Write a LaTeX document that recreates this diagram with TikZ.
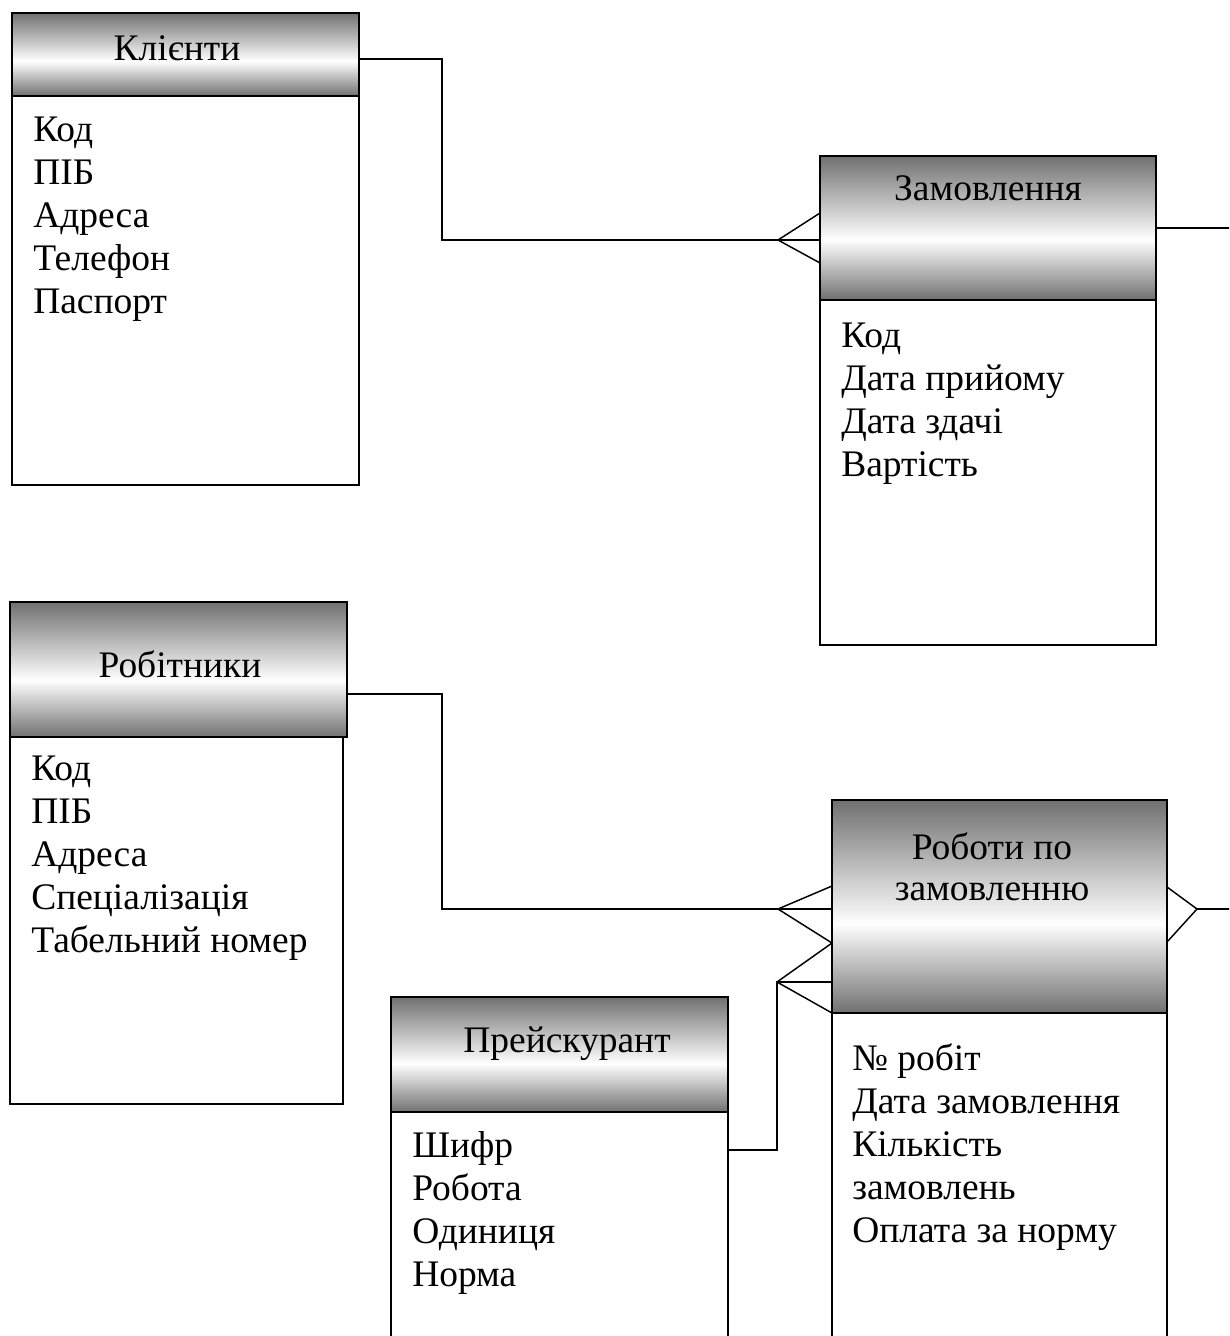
\documentclass[tikz,border=0pt]{standalone}
\usepackage{fontspec}
\setmainfont{Liberation Serif}
\usetikzlibrary{calc}
\definecolor{hdrdark}{RGB}{112,112,112}
\pgfdeclareverticalshading{hdrshade}{100bp}{%
  color(0bp)=(hdrdark); color(25bp)=(hdrdark); color(46bp)=(white);
  color(75bp)=(hdrdark); color(100bp)=(hdrdark)}
\begin{document}
\begin{tikzpicture}[x=0.75pt,y=-0.75pt,
  hdr/.style={draw=black, line width=1.2pt, shading=hdrshade, anchor=north west,
    inner sep=0pt, outer sep=0pt},
  bodybox/.style={draw=black, line width=1.2pt, fill=white, anchor=north west,
    inner sep=0pt, outer sep=0pt},
  ttl/.style={font=\fontsize{28.1pt}{34pt}\selectfont, anchor=base, inner sep=0pt},
  fld/.style={font=\fontsize{28.1pt}{34pt}\selectfont, anchor=base west, inner sep=0pt},
  conn/.style={line width=1.1pt, line join=miter}]
\useasboundingbox (0,0) rectangle (1229,1336);
\clip (0,0) rectangle (1229,1336);

% ---------- Клієнти ----------
\node[bodybox, minimum width=260.25pt, minimum height=291.75pt] (klB) at (12,96) {};
\node[hdr, minimum width=260.25pt, minimum height=62.25pt] (klH) at (12,13) {};
\node[ttl] (klT) at (177,60) {Клієнти};
\foreach \t [count=\i from 0] in {Код,ПІБ,Адреса,Телефон,Паспорт}
  \node[fld] (klF\i) at (33,141+43*\i) {\t};

% ---------- Замовлення ----------
\node[bodybox, minimum width=252pt, minimum height=258.75pt] (zmB) at (820,300) {};
\node[hdr, minimum width=252pt, minimum height=108pt] (zmH) at (820,156) {};
\node[ttl] (zmT) at (988,200) {Замовлення};
\foreach \t [count=\i from 0] in {Код,Дата прийому,Дата здачі,Вартість}
  \node[fld] (zmF\i) at (841,347+43*\i) {\t};

% ---------- Робітники ----------
\node[bodybox, minimum width=249.75pt, minimum height=275.25pt] (rbB) at (10,737) {};
\node[hdr, minimum width=252.75pt, minimum height=101.25pt] (rbH) at (10,602) {};
\node[ttl] (rbT) at (180,677) {Робітники};
\foreach \t [count=\i from 0] in {Код,ПІБ,Адреса,Спеціалізація,Табельний номер}
  \node[fld] (rbF\i) at (31,780+43*\i) {\t};

% ---------- Роботи по замовленню ----------
\node[bodybox, minimum width=251.25pt, minimum height=255pt] (rpB) at (832,1013) {};
\node[hdr, minimum width=251.25pt, minimum height=159.75pt] (rpH) at (832,800) {};
\node[ttl] (rpT1) at (992,859) {Роботи по};
\node[ttl] (rpT2) at (992,900) {замовленню};
\foreach \t [count=\i from 0] in {№ робіт,Дата замовлення,Кількість,замовлень,Оплата за норму}
  \node[fld] (rpF\i) at (852,1070+43*\i) {\t};

% ---------- Прейскурант ----------
\node[bodybox, minimum width=252.75pt, minimum height=180pt] (prB) at (391,1112) {};
\node[hdr, minimum width=252.75pt, minimum height=86.25pt] (prH) at (391,997) {};
\node[ttl] (prT) at (567,1052) {Прейскурант};
\foreach \t [count=\i from 0] in {Шифр,Робота,Одиниця,Норма}
  \node[fld] (prF\i) at (412,1157+43*\i) {\t};

% ---------- connectors ----------
% Клієнти -> Замовлення (one to many)
\coordinate (b1) at (442,59);
\coordinate (f1) at (778,240);
\coordinate (p1u) at (820,213);
\coordinate (p1d) at (820,263);
\draw[conn] (klH.east |- b1) -- (b1) |- (zmH.west |- f1);
\draw[conn] (zmH.west |- p1u) -- (f1) -- (zmH.west |- p1d);

% Замовлення -> right
\coordinate (zmOut) at (1240,228);
\draw[conn] (zmH.east) -- (zmOut);

% Робітники -> Роботи по замовленню
\coordinate (b3) at (442,694);
\coordinate (f3) at (778,909);
\coordinate (p3u) at (832,886);
\coordinate (p3d) at (832,943);
\draw[conn] (rbH.east |- b3) -- (b3) |- (rpH.west |- f3);
\draw[conn] (rpH.west |- p3u) -- (f3) -- (rpH.west |- p3d);

% Прейскурант -> Роботи по замовленню
\coordinate (b4) at (777,1150);
\coordinate (f4) at (777,982);
\draw[conn] (prB.east |- b4) -- (b4) -- (f4) -- (rpH.west |- f4);
\draw[conn] (rpH.west |- p3d) -- (f4) -- (rpH.south west);

% Роботи по замовленню -> right
\coordinate (f5) at (1197,909);
\coordinate (p5u) at (1167,887);
\coordinate (p5d) at (1167,942);
\coordinate (rpOut) at (1240,909);
\draw[conn] (rpH.east |- p5u) -- (f5) -- (rpH.east |- p5d);
\draw[conn] (f5) -- (rpOut);
\end{tikzpicture}
\end{document}
